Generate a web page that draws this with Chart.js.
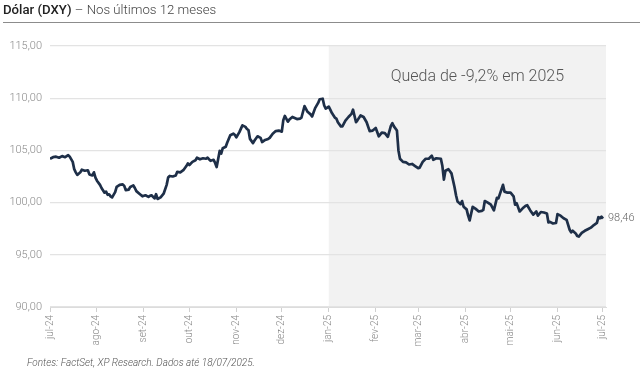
<!DOCTYPE html>
<html><head><meta charset="utf-8">
<script src="https://cdn.jsdelivr.net/npm/chart.js@4"></script>
<style>
html,body{margin:0;padding:0;background:#fff;}
#wrap{position:relative;width:640px;height:376px;overflow:hidden;font-family:Roboto,sans-serif;}
#title{position:absolute;left:3px;top:2px;font-size:13.2px;color:#333;white-space:nowrap;}
#title b{font-weight:500;color:#222}
#title span{font-weight:300;color:#444}
#rule{position:absolute;left:3px;right:0;top:22px;height:1px;background:#8c8c8c;}
#foot{position:absolute;left:27px;top:357px;font-size:10px;font-style:italic;font-weight:300;color:#555;white-space:nowrap;}
canvas{position:absolute;left:0;top:0}
</style></head><body>
<div id="wrap">
<canvas id="c" width="640" height="376"></canvas>
<div id="title"><b>Dólar (DXY)</b><span> – Nos últimos 12 meses</span></div>
<div id="rule"></div>
<div id="foot">Fontes: FactSet, XP Research. Dados até 18/07/2025.</div>
</div>
<script>
// Days counted from 18/07/2024
const tickLabels = ['jul-24','ago-24','set-24','out-24','nov-24','dez-24','jan-25','fev-25','mar-25','abr-25','mai-25','jun-25','jul-25'];
const tickDays = [0,31,62,92,123,153,184,215,243,274,304,335,365];
const dayOffsets = [0,2,4,6,8,10,12,13,15,16,17,18,20,21,23,25,26,28,29,30,31,33,34,36,37,38,39,40,41,43,44,46,48,49,50,52,53,55,56,57,59,61,63,65,66,67,69,70,71,73,75,77,78,79,81,83,84,86,88,90,91,92,94,96,97,99,101,103,104,106,108,109,110,112,113,114,116,117,119,121,122,123,125,127,129,130,131,132,134,135,137,139,140,142,144,145,147,149,151,153,154,155,157,158,160,163,165,166,168,170,172,173,175,177,178,180,181,182,184,185,186,188,189,190,192,193,195,197,199,200,202,203,205,207,209,211,213,215,217,219,221,223,225,226,227,229,230,231,233,235,237,239,241,243,244,246,248,250,252,253,255,258,259,260,261,263,264,265,267,268,269,271,272,273,275,276,277,279,281,283,285,286,287,289,291,293,295,296,299,300,302,304,306,307,308,310,312,314,315,317,319,321,322,324,326,328,329,330,332,334,335,337,339,341,343,344,345,347,348,349,351,353,355,357,359,361,362,363,364,365];
const dxyValues = [104.2,104.35,104.4,104.3,104.45,104.35,104.55,104.4,103.9,103.2,102.9,102.65,102.9,103.15,103.05,103.1,102.7,102.6,102.9,102.4,102.1,101.7,101.4,100.95,101.05,100.75,100.8,100.6,100.5,101.0,101.5,101.7,101.75,101.6,101.2,101.25,101.5,101.65,101.4,101.1,100.85,100.6,100.7,100.55,100.65,100.7,100.4,100.8,100.35,100.5,100.85,101.7,102.4,102.55,102.5,102.6,102.95,102.9,103.1,103.5,103.75,103.6,103.9,104.05,104.3,104.15,104.25,104.2,104.3,104.0,104.1,103.8,103.4,104.95,104.7,105.2,105.35,105.75,106.45,106.6,106.5,106.25,106.75,107.4,107.25,107.05,106.95,106.1,105.7,105.95,106.35,106.2,105.8,106.0,106.1,106.2,106.6,106.85,106.9,106.8,107.9,108.3,107.75,107.95,108.2,108.0,108.05,108.15,109.25,108.7,108.45,108.25,109.05,109.55,109.9,109.95,109.3,109.0,109.2,108.9,108.6,108.15,108.05,107.7,107.3,107.3,107.85,108.2,108.5,108.9,107.7,107.9,108.35,108.2,107.7,106.85,106.9,107.15,106.35,106.7,106.65,106.3,107.35,107.6,107.3,106.9,105.0,104.2,103.9,103.85,103.65,103.7,103.5,103.3,103.35,103.9,104.2,104.2,104.5,104.1,104.25,104.2,103.5,102.2,103.05,103.2,103.0,102.8,101.5,100.7,100.1,99.85,100.15,99.6,99.35,98.75,98.3,99.6,99.4,99.15,99.2,99.3,100.15,100.0,99.8,99.25,100.45,100.4,101.7,101.05,100.95,100.95,100.6,99.8,99.95,99.15,99.45,99.7,99.75,99.25,98.85,99.15,98.75,99.1,99.05,98.95,98.1,98.15,98.0,98.05,98.9,98.75,98.5,98.35,97.4,97.15,97.3,97.05,96.8,96.75,97.1,97.3,97.45,97.6,97.85,98.05,98.6,98.5,98.65,98.46];
const shadeFromLabel = 'jan-25';
const annotationText = 'Queda de -9,2% em 2025';

const fmt = v => Number(v).toFixed(2).replace('.', ',');

const shadePlugin = {
  id: 'shade',
  beforeDraw(chart) {
    const {ctx, chartArea, scales} = chart;
    const x0 = scales.x.getPixelForValue(tickDays[tickLabels.indexOf(shadeFromLabel)]);
    ctx.save();
    ctx.fillStyle = '#f2f2f2';
    ctx.fillRect(x0, chartArea.top, chartArea.right - x0, chartArea.bottom - chartArea.top);
    ctx.restore();
  }
};
const textPlugin = {
  id: 'texts',
  afterDatasetsDraw(chart) {
    const {ctx, chartArea, scales} = chart;
    const x0 = scales.x.getPixelForValue(tickDays[tickLabels.indexOf(shadeFromLabel)]);
    ctx.save();
    ctx.font = '300 16px Roboto';
    ctx.fillStyle = '#555';
    ctx.textAlign = 'center';
    ctx.textBaseline = 'middle';
    ctx.fillText(annotationText, (x0 + chartArea.right) / 2 + 10, chartArea.top + 31);
    const n = dxyValues.length - 1;
    const px = scales.x.getPixelForValue(dayOffsets[n]);
    const py = scales.y.getPixelForValue(dxyValues[n]);
    ctx.font = '300 11px Roboto';
    ctx.fillStyle = '#666';
    ctx.textAlign = 'left';
    ctx.fillText(fmt(dxyValues[n]), px + 5, py);
    ctx.restore();
  }
};

new Chart(document.getElementById('c'), {
  type: 'line',
  data: {
    datasets: [{
      data: dayOffsets.map((d, i) => ({x: d, y: dxyValues[i]})),
      borderColor: '#1e2f48',
      borderWidth: 2.7,
      pointRadius: 0,
      tension: 0,
      fill: false,
      borderJoinStyle: 'round'
    }]
  },
  options: {
    responsive: false,
    animation: false,
    layout: {padding: {top: 46, right: 34, left: 0, bottom: 0}},
    plugins: {legend: {display: false}, tooltip: {enabled: false}},
    scales: {
      x: {
        type: 'linear', min: 0, max: 367,
        afterBuildTicks: s => { s.ticks = tickDays.map(v => ({value: v})); },
        ticks: {
          autoSkip: false, minRotation: 90, maxRotation: 90,
          callback: (v) => tickLabels[tickDays.indexOf(v)],
          color: '#8a8a8a', font: {family: 'Roboto', size: 10, weight: 300}, padding: 3
        },
        grid: {drawOnChartArea: false, tickLength: 5, color: '#d0d0d0'},
        border: {display: true, color: '#dcdcdc'},
        afterFit: s => { s.height = 69; }
      },
      y: {
        min: 90, max: 115,
        ticks: {stepSize: 5, callback: v => fmt(v), color: '#8a8a8a', font: {family: 'Roboto', size: 11, weight: 300}, padding: 8},
        grid: {color: '#e3e3e3', drawTicks: false, lineWidth: 1.2},
        border: {display: false},
        afterFit: s => { s.width = 50; }
      }
    }
  },
  plugins: [shadePlugin, textPlugin]
});
</script>
</body></html>
